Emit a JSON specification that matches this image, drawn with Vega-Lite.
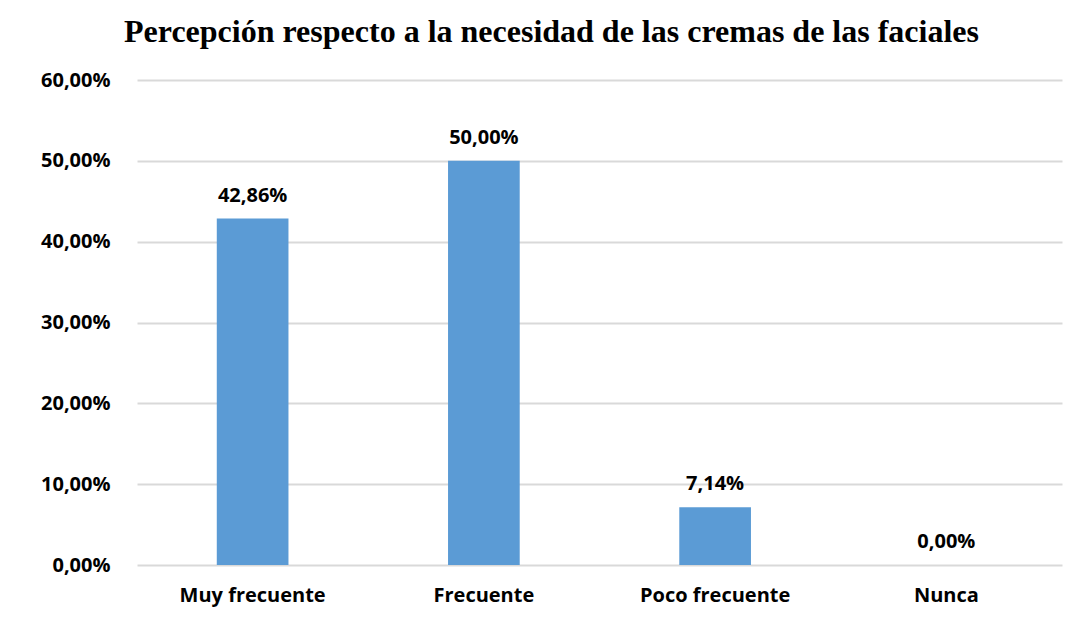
{
  "$schema": "https://vega.github.io/schema/vega-lite/v6.json",
  "width": 925,
  "height": 485,
  "autosize": "none",
  "padding": {"left": 137, "top": 80, "right": 18, "bottom": 54},
  "background": "white",
  "title": {
    "text": "Percepción respecto a la necesidad de las cremas de las faciales",
    "font": "Liberation Serif",
    "fontSize": 32,
    "fontWeight": "bold",
    "color": "#000000",
    "anchor": "middle",
    "dx": -48,
    "offset": 21
  },
  "config": {
    "locale": {"number": {"decimal": ",", "thousands": ".", "grouping": [3], "currency": ["", " €"]}},
    "view": {"stroke": null},
    "axis": {"labelFont": "Open Sans", "labelFontWeight": "bold", "labelColor": "#000000", "labelFontSize": 20}
  },
  "data": {
    "values": [
      {"categoria": "Muy frecuente", "porcentaje": 0.4286},
      {"categoria": "Frecuente", "porcentaje": 0.5},
      {"categoria": "Poco frecuente", "porcentaje": 0.0714},
      {"categoria": "Nunca", "porcentaje": 0.0}
    ]
  },
  "encoding": {
    "x": {
      "field": "categoria",
      "type": "nominal",
      "sort": null,
      "title": null,
      "scale": {"paddingInner": 0.69, "paddingOuter": 0.345},
      "axis": {"labelAngle": 0, "domain": false, "ticks": false, "labelPadding": 20}
    },
    "y": {
      "field": "porcentaje",
      "type": "quantitative",
      "title": null,
      "scale": {"domain": [0, 0.6], "nice": false},
      "axis": {"format": ".2%", "values": [0, 0.1, 0.2, 0.3, 0.4, 0.5, 0.6], "domain": false, "ticks": false, "labelPadding": 27, "gridColor": "#d9d9d9", "gridWidth": 2}
    }
  },
  "layer": [
    {"mark": {"type": "bar", "color": "#5b9bd5"}},
    {
      "mark": {"type": "text", "baseline": "bottom", "dy": -13, "font": "Open Sans", "fontWeight": "bold", "fontSize": 20, "color": "#000000"},
      "encoding": {"text": {"field": "porcentaje", "type": "quantitative", "format": ".2%"}}
    }
  ]
}
